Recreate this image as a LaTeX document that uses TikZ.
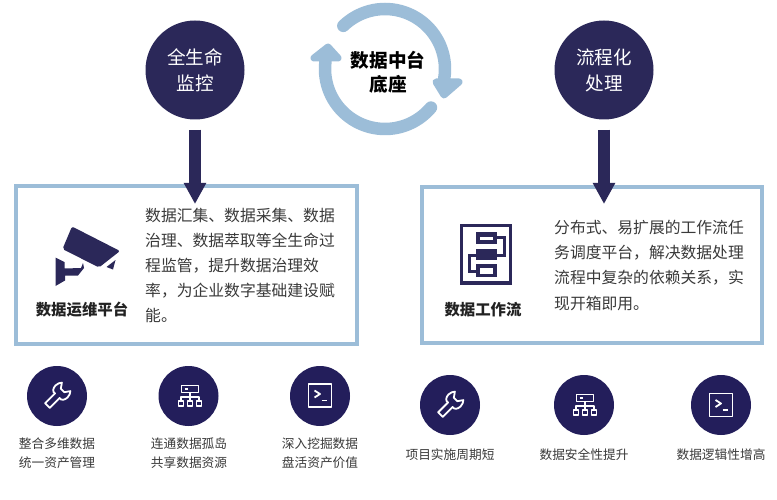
\documentclass[tikz,border=0pt]{standalone}
\usepackage{fontspec}
\setmainfont{Noto Sans CJK SC}
\usetikzlibrary{arrows.meta}
\definecolor{navy}{HTML}{2B2859}
\definecolor{deep}{HTML}{231E5B}
\definecolor{sky}{HTML}{9CBDD8}
\definecolor{body}{HTML}{3A3A3A}
\definecolor{head}{HTML}{222222}
\tikzset{
  bigcircle/.style={circle,fill=navy,minimum size=99pt,inner sep=0pt,text=white,align=center,font=\fontsize{18.6}{26}\selectfont},
  smallcircle/.style={circle,fill=deep,minimum size=60pt,inner sep=0pt},
  panel/.style={draw=sky,line width=4pt,fill=white,inner sep=0pt},
  bodytext/.style={text=body,align=left,inner sep=0pt,anchor=north west,font=\fontsize{15.8}{25.2}\selectfont},
  titletext/.style={text=head,inner sep=0pt,font=\fontsize{15.4}{20}\selectfont\bfseries},
  smalltext/.style={text=body,align=center,inner sep=0pt,font=\fontsize{12.7}{18.8}\selectfont},
  downarrow/.style={draw=navy,line width=12pt,shorten <=10pt,-{Triangle[width=21pt,length=21pt]}},
  cycle/.style={draw=sky,line width=12.5pt,line cap=round},
  cyclehead/.style={fill=sky,draw=sky,line width=7pt,line join=round},
  iconline/.style={draw=white,line width=1.8pt,line join=round}
}
\newcommand{\wrenchicon}[2]{%
  \begin{scope}[shift={(#1,#2)},rotate=45]
    \draw[iconline] (-15,-3.2) -- (-1,-3.2) .. controls (-2,-6) and (1,-8.5) .. (5,-8.5)
      .. controls (7.5,-8.5) and (10,-7.5) .. (11.5,-6) -- (6.5,-2.5) -- (6.5,2.5) -- (11.5,6)
      .. controls (10,7.5) and (7.5,8.5) .. (5,8.5) .. controls (1,8.5) and (-2,6) .. (-1,3.2)
      -- (-15,3.2) -- cycle;
  \end{scope}}
\newcommand{\treeicon}[2]{%
  \begin{scope}[shift={(#1,#2)}]
    \draw[iconline] (-8,-10.5) rectangle (9,-3.5);
    \draw[iconline] (-5,-7) -- (-2,-7);
    \draw[iconline] (0.5,-3.5) -- (0.5,5);
    \draw[iconline] (-8.5,5) -- (-8.5,1) -- (9.5,1) -- (9.5,5);
    \draw[iconline] (-11,5) rectangle (-6,10);
    \draw[iconline] (-2,5) rectangle (3,10);
    \draw[iconline] (7,5) rectangle (12,10);
  \end{scope}}
\newcommand{\termicon}[2]{%
  \begin{scope}[shift={(#1,#2)}]
    \draw[iconline] (-11.5,-11.5) rectangle (11.5,11.5);
    \draw[iconline] (-5.5,-5) -- (0,-1.5) -- (-5.5,2);
    \draw[iconline] (1.5,5) -- (7,5);
  \end{scope}}
\begin{document}
\begin{tikzpicture}[x=1pt,y=-1pt]
\useasboundingbox (0,0) rectangle (777,500);
\fill[white] (0,0) rectangle (777,500);

% panels
\node[panel,minimum width=341pt,minimum height=157pt] (leftpanel) at (186,265) {};
\node[panel,minimum width=340pt,minimum height=156pt] (rightpanel) at (592,265) {};

% top circles
\node[bigcircle] (lifecycle) at (195,70) {全生命\\监控};
\node[bigcircle] (flowproc) at (604,70) {流程化\\处理};
\coordinate (lefttip) at (195,204);
\coordinate (righttip) at (604,204);
\draw[downarrow] (lifecycle.south) -- (lefttip);
\draw[downarrow] (flowproc.south) -- (righttip);

% central cycle
\draw[cycle] plot[smooth,domain=-134:9,samples=40] ({385+60*cos(\x)},{69+60*sin(\x)});
\draw[cycle] plot[smooth,domain=40:187,samples=40] ({385+60*cos(\x)},{69+60*sin(\x)});
\fill[cyclehead] (436,82) -- (459,82) -- (444,95) -- cycle;
\fill[cyclehead] (314,58) -- (338,58) -- (328,47) -- cycle;
\node[text=black,align=center,inner sep=0pt,font=\fontsize{18.6}{24}\selectfont\bfseries] (hub) at (388,72) {数据中台\\底座};

% left panel content
\fill[navy,rounded corners=2pt] (72,226.5) -- (120,251) -- (99,267.5) -- (62.5,249) -- cycle;
\fill[navy] (55.5,257.5) -- (64.5,262) -- (64.5,268.5) -- (81,268) -- (83,263) -- (84,268) -- (78,275.5) -- (65,275.5) -- (65,280.5) -- (55.5,286) -- cycle;
\fill[navy] (115.5,260) -- (106.5,267) -- (113,269.5) -- cycle;
\node[titletext] (opslabel) at (82,310) {数据运维平台};
\node[bodytext] (leftbody) at (145,207.5) {数据汇集、数据采集、数据\\治理、数据萃取等全生命过\\程监管，提升数据治理效\\率，为企业数字基础建设赋\\能。};

% right panel content
\draw[navy,line width=3.5pt] (461.5,225.5) rectangle (510.5,283);
\fill[navy] (476,232) rectangle (497,244);
\fill[white] (479.5,236.5) rectangle (493,240);
\fill[navy] (476,249) rectangle (497,260);
\fill[navy] (476,264) rectangle (497,277);
\fill[white] (479.5,267.5) rectangle (493,273.5);
\draw[navy,line width=3pt] (497,237) -- (504,237) -- (504,255) -- (497,255);
\draw[navy,line width=3pt] (476,255) -- (469,255) -- (469,271) -- (476,271);
\node[titletext] (flowlabel) at (483,310) {数据工作流};
\node[bodytext] (rightbody) at (554,220) {分布式、易扩展的工作流任\\务调度平台，解决数据处理\\流程中复杂的依赖关系，实\\现开箱即用。};

% bottom row
\node[smallcircle] (c1) at (57,396) {};
\node[smallcircle] (c2) at (188.5,396) {};
\node[smallcircle] (c3) at (320,396) {};
\node[smallcircle] (c4) at (450,405) {};
\node[smallcircle] (c5) at (584,405) {};
\node[smallcircle] (c6) at (721,405) {};
\wrenchicon{58}{395}
\treeicon{189.5}{396}
\termicon{320}{395.5}
\wrenchicon{451}{404}
\treeicon{584.5}{405}
\termicon{721}{405}
\node[smalltext] (t1) at (57,453.5) {整合多维数据\\统一资产管理};
\node[smalltext] (t2) at (189,453.5) {连通数据孤岛\\共享数据资源};
\node[smalltext] (t3) at (320,453.5) {深入挖掘数据\\盘活资产价值};
\node[smalltext] (t4) at (450,455) {项目实施周期短};
\node[smalltext] (t5) at (584,455) {数据安全性提升};
\node[smalltext] (t6) at (721,455) {数据逻辑性增高};
\end{tikzpicture}
\end{document}
